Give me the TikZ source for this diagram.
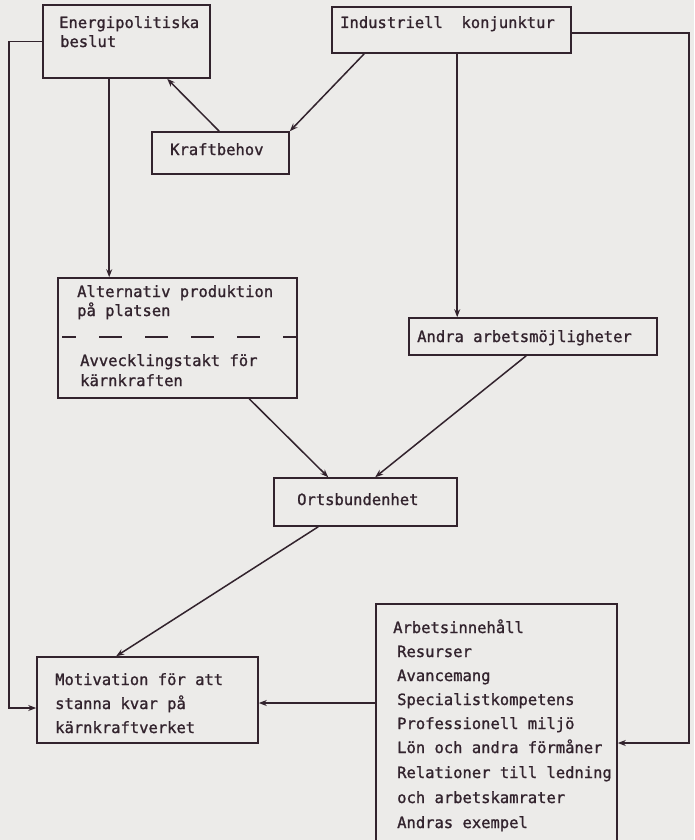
\documentclass[tikz,border=0pt]{standalone}
\usepackage{fontspec}
\setmonofont[FakeBold=1.2]{DejaVu Sans Mono}
\usetikzlibrary{arrows.meta}
\definecolor{ink}{RGB}{50,35,45}
\definecolor{paper}{RGB}{236,235,233}
\begin{document}
\begin{tikzpicture}[x=1pt,y=-1pt,
  box/.style={draw=ink,line width=1.6pt,rectangle,inner sep=0pt},
  lbl/.style={inner sep=0pt,anchor=base west,text=ink,font=\ttfamily\fontsize{15.5}{18}\selectfont},
  arr/.style={draw=ink,line width=1.5pt,-{Stealth[length=8pt,width=6pt]}},
  ln/.style={draw=ink,line width=1.5pt}]
\fill[paper] (0,0) rectangle (694,840);
\useasboundingbox (0,0) rectangle (694,840);
\clip (0,0) rectangle (694,840);
% boxes
\node[box,minimum width=167pt,minimum height=73pt] (energi) at (126.5,41.5) {};
\node[box,minimum width=239pt,minimum height=46pt] (indus) at (451.5,30) {};
\node[box,minimum width=137pt,minimum height=42pt] (kraft) at (220.5,153) {};
\node[box,minimum width=239pt,minimum height=120pt] (alt) at (177.5,338) {};
\node[box,minimum width=248pt,minimum height=37pt] (andra) at (533,336.5) {};
\node[box,minimum width=183pt,minimum height=48pt] (orts) at (365.5,502) {};
\node[box,minimum width=221pt,minimum height=86pt] (motiv) at (147.5,700) {};
\node[box,minimum width=241pt,minimum height=256pt] (arb) at (496.5,732) {};
% texts
\node[lbl] (t1) at (59,28) {Energipolitiska};
\node[lbl] (t2) at (60,47) {beslut};
\node[lbl] (t3) at (340,28) {Industriell\ \ konjunktur};
\node[lbl] (t4) at (170,155) {Kraftbehov};
\node[lbl] (t5) at (77,297) {Alternativ produktion};
\node[lbl] (t6) at (77,316) {på platsen};
\node[lbl] (t7) at (80,366) {Avvecklingstakt för};
\node[lbl] (t8) at (80,386) {kärnkraften};
\node[lbl] (t9) at (417,342) {Andra arbetsmöjligheter};
\node[lbl] (t10) at (297,505) {Ortsbundenhet};
\node[lbl] (t11) at (55,685) {Motivation för att};
\node[lbl] (t12) at (55,709) {stanna kvar på};
\node[lbl] (t13) at (55,733) {kärnkraftverket};
\node[lbl] (a1) at (393,633) {Arbetsinnehåll};
\node[lbl] (a2) at (397,657) {Resurser};
\node[lbl] (a3) at (397,681) {Avancemang};
\node[lbl] (a4) at (397,705) {Specialistkompetens};
\node[lbl] (a5) at (397,729) {Professionell miljö};
\node[lbl] (a6) at (397,753) {Lön och andra förmåner};
\node[lbl] (a7) at (397,778) {Relationer till ledning};
\node[lbl] (a8) at (397,803) {och arbetskamrater};
\node[lbl] (a9) at (397,828) {Andras exempel};
% dashed separator
\draw[ln,dash pattern=on 23pt off 23pt,dash phase=9pt] ([xshift=5pt,yshift=1pt]alt.west) -- ([yshift=1pt]alt.east);
% connectors
\draw[arr] ([xshift=68pt]kraft.north west) -- ([xshift=125pt]energi.south west);
\draw[arr] ([xshift=33pt]indus.south west) -- (kraft.north east);
\draw[arr] ([xshift=67pt]energi.south west) -- ([xshift=67pt]energi.south west |- alt.north);
\draw[arr] (energi.west) -- ++(-33,0) |- ([yshift=-8pt]motiv.west);
\draw[arr] ([xshift=126pt]indus.south west) -- ([xshift=126pt]indus.south west |- andra.north);
\draw[arr] ([yshift=-3pt]indus.east) -- ++(117,0) |- ([yshift=-11pt]arb.east);
\draw[arr] ([xshift=192pt]alt.south west) -- ([xshift=55pt]orts.north west);
\draw[arr] ([xshift=118pt]andra.south west) -- ([xshift=102pt]orts.north west);
\draw[arr] ([xshift=45pt]orts.south west) -- ([xshift=80pt]motiv.north west);
\draw[arr] ([yshift=29pt]arb.west) -- ([yshift=29pt]arb.west -| motiv.east);
\end{tikzpicture}
\end{document}
